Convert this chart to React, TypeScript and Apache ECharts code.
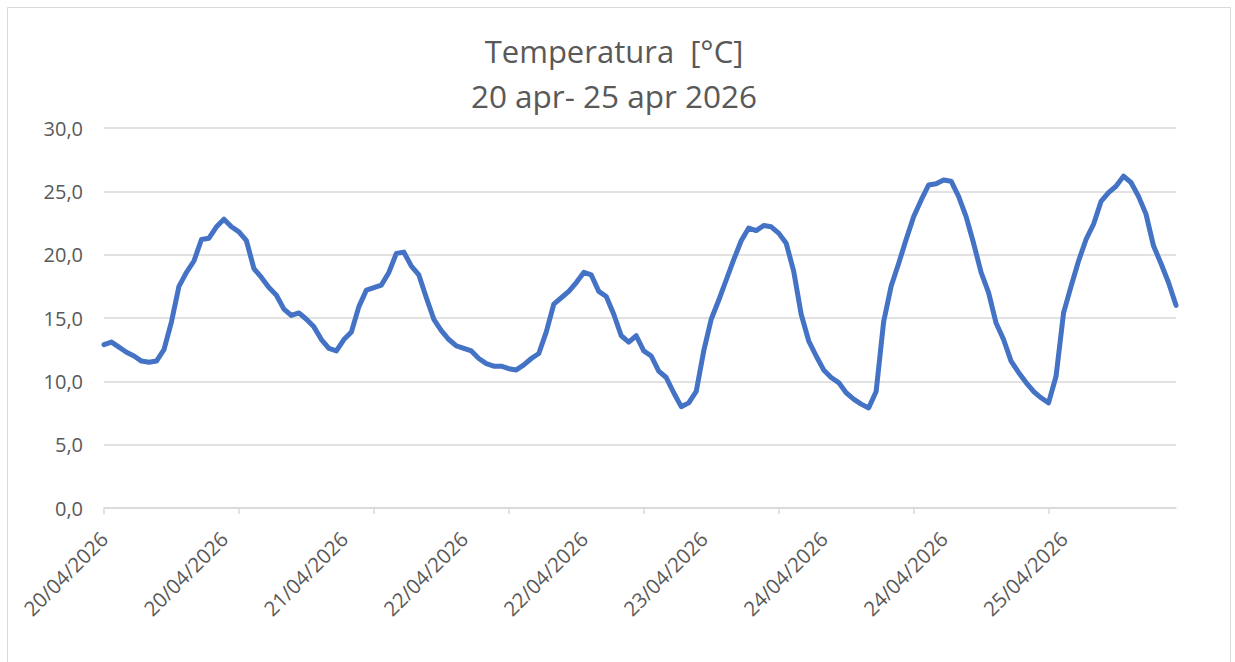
import React, { useEffect, useRef } from "react";
import * as echarts from "echarts";

const titleLine1 = "Temperatura  [°C]";
const titleLine2 = "20 apr- 25 apr 2026";

const days = ["20/04/2026", "21/04/2026", "22/04/2026", "23/04/2026", "24/04/2026", "25/04/2026"];
const hoursPerDay = 24;
const categories: string[] = [];
days.forEach((d) => {
  for (let h = 0; h < hoursPerDay; h++) categories.push(d);
});

const temperature = [
  12.9, 13.1, 12.7, 12.3, 12.0, 11.6, 11.5, 11.6, 12.5, 14.7, 17.5, 18.6, 19.5, 21.2, 21.3, 22.2, 22.8, 22.2,
  21.8, 21.1, 18.9, 18.2, 17.4, 16.8, 15.7, 15.2, 15.4, 14.9, 14.3, 13.3, 12.6, 12.4, 13.3, 13.9, 15.9, 17.2,
  17.4, 17.6, 18.6, 20.1, 20.2, 19.1, 18.4, 16.6, 14.9, 14.0, 13.3, 12.8, 12.6, 12.4, 11.8, 11.4, 11.2, 11.2,
  11.0, 10.9, 11.3, 11.8, 12.2, 13.9, 16.1, 16.6, 17.1, 17.8, 18.6, 18.4, 17.1, 16.7, 15.3, 13.6, 13.1, 13.6,
  12.4, 12.0, 10.8, 10.3, 9.1, 8.0, 8.3, 9.2, 12.4, 14.9, 16.4, 18.0, 19.6, 21.1, 22.1, 21.9, 22.3, 22.2,
  21.7, 20.9, 18.7, 15.3, 13.2, 12.0, 10.9, 10.3, 9.9, 9.1, 8.6, 8.2, 7.9, 9.2, 14.7, 17.5, 19.3, 21.2,
  23.0, 24.3, 25.5, 25.6, 25.9, 25.8, 24.6, 23.0, 20.9, 18.6, 17.0, 14.6, 13.3, 11.6, 10.7, 9.9, 9.2, 8.7,
  8.3, 10.4, 15.4, 17.5, 19.5, 21.2, 22.4, 24.2, 24.9, 25.4, 26.2, 25.7, 24.6, 23.2, 20.7, 19.3, 17.8, 16.0,
];

const yMin = 0;
const yMax = 30;
const yStep = 5;

export default function App() {
  const ref = useRef<HTMLDivElement>(null);
  useEffect(() => {
    if (!ref.current) return;
    const chart = echarts.init(ref.current, undefined, { renderer: "svg" });
    const font = "'Open Sans', 'Noto Sans', sans-serif";
    chart.setOption({
      animation: false,
      backgroundColor: "#ffffff",
      graphic: [
        {
          type: "rect",
          silent: true,
          shape: { x: 7.5, y: 7.5, width: 1223, height: 670 },
          style: { fill: "none", stroke: "#d9d9d9", lineWidth: 1 },
        },
        {
          type: "text",
          x: 614,
          y: 51,
          style: {
            text: titleLine1,
            font: `31px ${font}`,
            fill: "#595959",
            textAlign: "center",
            textVerticalAlign: "middle",
          },
        },
        {
          type: "text",
          x: 614,
          y: 95,
          style: {
            text: titleLine2,
            font: `31.5px ${font}`,
            fill: "#595959",
            textAlign: "center",
            textVerticalAlign: "middle",
          },
        },
      ],
      grid: { left: 104, right: 59, top: 128, bottom: 154, containLabel: false },
      xAxis: {
        type: "category",
        data: categories,
        boundaryGap: false,
        axisLine: { lineStyle: { color: "#d9d9d9", width: 1.5 } },
        axisTick: { show: true, interval: 17, length: 6, lineStyle: { color: "#d9d9d9", width: 1.5 } },
        axisLabel: {
          interval: 15,
          rotate: 45,
          margin: 27,
          color: "#595959",
          fontSize: 20.5,
          fontFamily: font,
        },
        splitLine: { show: false },
      },
      yAxis: {
        type: "value",
        min: yMin,
        max: yMax,
        interval: yStep,
        axisLine: { show: false },
        axisTick: { show: false },
        axisLabel: {
          margin: 21,
          color: "#595959",
          fontSize: 20,
          fontFamily: font,
          formatter: (v: number) => v.toFixed(1).replace(".", ","),
        },
        splitLine: { lineStyle: { color: "#d9d9d9", width: 1.5 } },
      },
      series: [
        {
          type: "line",
          data: temperature,
          showSymbol: false,
          smooth: false,
          lineStyle: { color: "#4472c4", width: 5, cap: "round", join: "round" },
        },
      ],
    });
    return () => chart.dispose();
  }, []);
  return (
    <div
      ref={ref}
      style={{ position: "fixed", left: 0, top: 0, width: 1235, height: 662 }}
    />
  );
}
